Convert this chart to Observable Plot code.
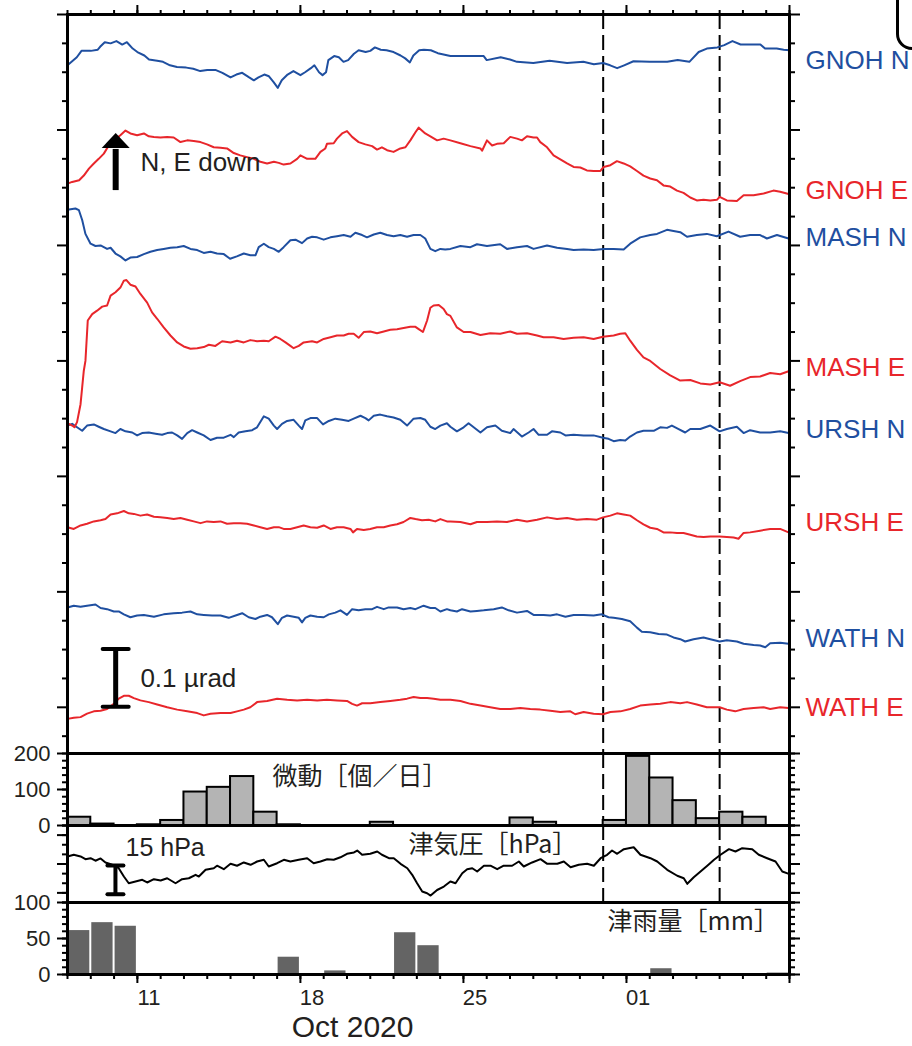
<!DOCTYPE html>
<html><head><meta charset="utf-8">
<script src="https://cdn.jsdelivr.net/npm/d3@7"></script>
<script src="https://cdn.jsdelivr.net/npm/@observablehq/plot@0.6"></script>
<style>
html,body{margin:0;padding:0;background:#fff;}
#wrap{position:relative;width:912px;height:1046px;overflow:hidden;background:#fff;}
#wrap svg{position:absolute;left:0;}
#corner{position:absolute;left:896px;top:-40px;width:60px;height:84px;border:3px solid #000;border-radius:16px;}
</style></head>
<body><div id="wrap"><div id="corner"></div></div>
<script>
// ---------------- DATA ----------------
// time in days since 2020-10-08 00:00, tilt change in nrad (relative to first sample)
const gnohN = [[0,0],[0.4,14],[0.6,25],[1.0,25],[1.3,27],[1.4,32],[1.6,40],[1.85,38],[2.1,42],[2.35,36],[2.55,40],[2.8,29],[3.0,23],[3.3,17],[3.5,10],[3.85,8],[4.1,6],[4.4,0],[4.7,-3],[5.1,-4],[5.4,-6],[5.7,-10],[6.0,-8],[6.35,-8],[6.65,-13],[7.0,-21],[7.25,-16],[7.5,-13],[7.8,-21],[8.0,-26],[8.2,-21],[8.45,-16],[8.65,-19],[8.85,-29],[9.03,-39],[9.2,-26],[9.45,-16],[9.7,-10],[10.0,-17],[10.2,-12],[10.45,-5],[10.6,0],[10.8,-12],[10.95,-17],[11.1,-12],[11.2,9],[11.45,16],[11.65,14],[11.85,6],[12.05,9],[12.3,20],[12.5,26],[12.8,23],[13.0,25],[13.2,31],[13.45,27],[13.7,26],[14.0,23],[14.3,17],[14.5,12],[14.7,5],[14.85,17],[15.1,26],[15.3,27],[15.6,26],[15.9,21],[16.44,16],[17.15,16],[17.87,16],[18.0,9],[18.6,14],[19.0,10],[19.3,6],[20.0,4],[20.7,8],[21.45,4],[22.15,6],[22.6,2],[23.0,4],[23.3,0],[23.6,-5],[23.9,0],[24.3,7],[25.0,6],[25.75,6],[26.2,9],[26.7,6],[27.1,23],[27.45,29],[27.9,31],[28.2,35],[28.55,42],[28.9,36],[29.3,36],[29.75,36],[29.95,29],[30.45,29],[30.75,27],[31,26]];
const gnohE = [[0,0],[0.2,3],[0.5,6],[0.7,14],[0.92,26],[1.13,35],[1.34,43],[1.56,52],[1.77,66],[1.99,75],[2.27,84],[2.49,92],[2.7,87],[2.99,84],[3.28,87],[3.49,82],[3.71,81],[3.99,80],[4.28,81],[4.56,80],[4.85,72],[5.14,75],[5.42,74],[5.71,72],[5.99,68],[6.28,63],[6.57,62],[6.85,61],[7.14,53],[7.42,49],[7.71,46],[8.0,43],[8.28,38],[8.57,35],[8.86,38],[9.07,36],[9.28,33],[9.57,35],[9.86,43],[10.0,49],[10.29,43],[10.64,43],[10.86,55],[11.07,61],[11.14,69],[11.43,70],[11.57,78],[11.79,87],[12.0,91],[12.22,81],[12.5,72],[12.79,68],[13.08,65],[13.29,59],[13.5,63],[13.72,58],[14.0,55],[14.29,61],[14.51,63],[14.72,75],[14.94,89],[15.08,97],[15.36,87],[15.58,82],[15.87,75],[16.15,78],[16.44,75],[16.87,70],[17.3,65],[17.73,61],[17.8,57],[18.01,75],[18.23,66],[18.44,69],[18.73,70],[19.01,81],[19.3,78],[19.51,75],[19.73,82],[20.01,80],[20.16,80],[20.3,72],[20.59,63],[20.87,49],[21.16,42],[21.45,35],[21.73,29],[22.02,28],[22.3,23],[22.59,22],[22.88,22],[23.02,29],[23.31,32],[23.59,39],[23.88,35],[24.16,30],[24.45,22],[24.73,14],[25.02,9],[25.31,6],[25.59,-3],[25.88,-5],[26.17,-12],[26.45,-16],[26.74,-24],[27.02,-29],[27.31,-28],[27.6,-29],[27.88,-28],[28.0,-23],[28.31,-29],[28.74,-30],[29.03,-20],[29.46,-20],[29.89,-17],[30.31,-12],[30.6,-14],[30.96,-18]];
const mashN = [[0,0],[0.34,2],[0.49,-1],[0.63,-18],[0.77,-42],[0.99,-59],[1.2,-63],[1.42,-62],[1.7,-68],[1.85,-66],[2.06,-76],[2.27,-81],[2.49,-88],[2.7,-83],[2.99,-82],[3.28,-77],[3.56,-73],[3.85,-70],[4.13,-68],[4.42,-66],[4.71,-65],[4.99,-63],[5.28,-68],[5.57,-70],[5.85,-75],[6.14,-73],[6.42,-76],[6.71,-77],[6.98,-85],[7.27,-81],[7.57,-76],[7.85,-79],[8.07,-79],[8.21,-65],[8.43,-59],[8.64,-65],[8.86,-68],[9.07,-73],[9.28,-65],[9.57,-53],[9.79,-52],[10.07,-58],[10.29,-50],[10.5,-47],[10.72,-48],[11.0,-52],[11.29,-48],[11.57,-46],[11.86,-44],[12.15,-47],[12.36,-40],[12.65,-44],[12.86,-48],[13.15,-43],[13.43,-40],[13.72,-44],[14.0,-46],[14.29,-44],[14.58,-47],[14.86,-44],[15.15,-44],[15.36,-50],[15.58,-68],[15.79,-72],[16.01,-68],[16.22,-69],[16.44,-68],[16.87,-63],[17.3,-65],[17.58,-60],[18.01,-63],[18.58,-60],[18.87,-68],[19.3,-65],[19.73,-63],[20.01,-68],[20.59,-62],[21.02,-66],[21.45,-68],[21.73,-70],[22.16,-69],[22.59,-70],[23.02,-68],[23.45,-68],[23.88,-69],[24.16,-59],[24.59,-48],[25.02,-44],[25.31,-42],[25.74,-35],[26.02,-37],[26.31,-39],[26.6,-47],[27.02,-44],[27.45,-42],[27.88,-46],[28.38,-38],[28.88,-47],[29.31,-44],[29.74,-44],[30.03,-50],[30.46,-44],[30.96,-50]];
const mashE = [[0,0],[0.2,-4],[0.3,-7],[0.41,2],[0.56,33],[0.63,62],[0.7,91],[0.77,108],[0.87,178],[1.06,189],[1.27,195],[1.49,202],[1.7,204],[1.85,221],[2.06,227],[2.27,235],[2.42,247],[2.53,248],[2.7,240],[2.92,237],[3.13,224],[3.42,209],[3.63,192],[3.85,181],[4.13,166],[4.42,152],[4.71,140],[4.99,133],[5.28,129],[5.57,130],[5.85,132],[6.07,136],[6.35,134],[6.64,142],[7.0,140],[7.28,143],[7.57,140],[7.85,144],[8.14,142],[8.43,143],[8.64,142],[8.93,150],[9.14,146],[9.36,140],[9.57,134],[9.71,130],[9.93,134],[10.14,140],[10.5,142],[10.72,140],[11.0,146],[11.29,149],[11.57,152],[11.86,152],[12.07,155],[12.29,155],[12.5,148],[12.72,158],[13.0,159],[13.29,156],[13.58,159],[13.86,162],[14.15,163],[14.43,165],[14.72,167],[14.94,167],[15.08,163],[15.26,158],[15.44,178],[15.58,200],[15.72,204],[15.94,205],[16.15,198],[16.29,189],[16.44,186],[16.72,166],[17.01,158],[17.3,158],[17.73,153],[18.15,156],[18.58,155],[19.01,159],[19.3,155],[19.73,156],[20.16,152],[20.44,149],[20.87,149],[21.3,146],[21.73,148],[22.16,149],[22.59,146],[22.99,150],[23.45,152],[23.73,155],[23.95,156],[24.16,143],[24.45,127],[24.73,114],[25.02,108],[25.45,94],[25.88,83],[26.31,74],[26.74,75],[27.17,69],[27.6,67],[28.0,71],[28.45,65],[28.88,73],[29.31,80],[29.74,81],[30.17,87],[30.6,85],[30.96,90]];
const urshN = [[0,0],[0.2,3],[0.41,-3],[0.63,-9],[0.84,0],[1.13,2],[1.34,-2],[1.56,-6],[1.85,-10],[2.06,-13],[2.27,-6],[2.49,-10],[2.78,-12],[2.99,-17],[3.2,-13],[3.49,-12],[3.78,-14],[4.06,-16],[4.28,-13],[4.49,-12],[4.71,-17],[4.92,-23],[5.14,-13],[5.35,-8],[5.57,-12],[5.85,-17],[6.14,-25],[6.42,-21],[6.71,-21],[7.0,-16],[7.14,-20],[7.35,-12],[7.64,-10],[7.93,-8],[8.14,-3],[8.43,16],[8.64,12],[8.86,0],[9.0,-6],[9.21,3],[9.43,8],[9.71,10],[9.93,0],[10.07,-6],[10.21,9],[10.43,13],[10.72,13],[10.97,2],[11.22,8],[11.5,12],[11.79,10],[12.07,8],[12.29,12],[12.58,17],[12.79,13],[12.93,9],[13.15,17],[13.43,19],[13.72,16],[14.0,14],[14.29,10],[14.58,0],[14.86,12],[15.15,13],[15.36,10],[15.58,-2],[15.79,-6],[16.01,0],[16.29,4],[16.44,-2],[16.72,-10],[17.01,-3],[17.22,4],[17.44,-3],[17.73,-12],[18.01,-3],[18.37,0],[18.65,-9],[19.01,-13],[19.15,-6],[19.51,-19],[19.8,-12],[20.01,-6],[20.23,-16],[20.59,-16],[20.8,-10],[21.16,-12],[21.38,-17],[21.73,-16],[22.16,-17],[22.59,-17],[22.99,-21],[23.23,-23],[23.45,-27],[23.73,-25],[23.95,-26],[24.16,-19],[24.45,-12],[24.73,-9],[25.17,-9],[25.45,-3],[25.74,-4],[25.95,0],[26.24,-6],[26.52,-12],[26.74,-6],[27.17,-6],[27.6,0],[28.0,-10],[28.31,-6],[28.74,-2],[29.03,-13],[29.31,-8],[29.74,-12],[30.17,-12],[30.6,-10],[30.96,-13]];
const urshE = [[0,0],[0.27,-3],[0.56,3],[0.84,6],[1.13,10],[1.42,12],[1.63,14],[1.85,22],[2.13,24],[2.42,28],[2.63,24],[2.85,23],[3.13,20],[3.42,22],[3.71,18],[3.99,17],[4.28,16],[4.56,14],[4.85,16],[5.14,13],[5.42,10],[5.71,7],[5.99,10],[6.28,9],[6.57,10],[6.85,6],[7.14,7],[7.42,7],[7.71,6],[8.0,3],[8.28,0],[8.57,-3],[8.86,0],[9.07,0],[9.28,-3],[9.57,-3],[9.86,0],[10.14,3],[10.43,0],[10.72,-1],[11.0,3],[11.29,-3],[11.57,0],[11.86,0],[12.15,-3],[12.26,-9],[12.43,-3],[12.72,-5],[13.0,-3],[13.29,0],[13.58,0],[13.86,3],[14.15,5],[14.43,9],[14.72,16],[14.94,14],[15.22,12],[15.51,13],[15.79,10],[16.01,14],[16.29,10],[16.44,10],[16.87,9],[17.3,5],[17.58,9],[18.01,9],[18.44,10],[18.87,9],[19.3,13],[19.73,10],[20.16,13],[20.59,17],[21.02,14],[21.45,16],[21.87,13],[22.3,14],[22.73,13],[22.99,17],[23.31,20],[23.59,24],[23.88,22],[24.16,20],[24.45,12],[24.73,5],[25.02,-1],[25.31,-3],[25.59,-9],[25.88,-9],[26.17,-10],[26.45,-10],[26.74,-13],[27.02,-16],[27.31,-17],[27.6,-16],[28.0,-16],[28.31,-17],[28.6,-18],[28.81,-20],[29.03,-10],[29.31,-9],[29.74,-6],[30.17,-3],[30.6,-3],[30.96,-9]];
const wathN = [[0,0],[0.27,3],[0.56,1],[0.84,3],[1.2,5],[1.42,-1],[1.7,-3],[1.99,-7],[2.2,-7],[2.42,-12],[2.7,-17],[2.99,-14],[3.28,-13],[3.71,-16],[4.13,-12],[4.56,-10],[4.92,-9],[5.28,-7],[5.57,-12],[5.85,-13],[6.21,-14],[6.57,-14],[6.92,-18],[7.28,-13],[7.5,-10],[7.78,-17],[8.07,-20],[8.28,-16],[8.57,-13],[8.78,-17],[9.03,-29],[9.21,-18],[9.43,-14],[9.71,-16],[9.93,-18],[10.07,-26],[10.21,-18],[10.43,-14],[10.72,-16],[11.0,-17],[11.22,-12],[11.5,-9],[11.72,-5],[12.0,-13],[12.22,-3],[12.5,-5],[12.79,-3],[13.08,-3],[13.29,1],[13.58,-3],[13.79,0],[14.15,0],[14.43,-3],[14.72,-1],[14.94,-3],[15.29,3],[15.58,-1],[15.79,-1],[16.01,-7],[16.29,-3],[16.44,-5],[16.72,-7],[16.94,-3],[17.3,-7],[17.58,-6],[17.87,-5],[18.3,-3],[18.65,0],[18.94,-5],[19.3,-9],[19.73,-6],[20.01,-13],[20.44,-13],[20.73,-14],[21.02,-12],[21.38,-16],[21.73,-13],[22.16,-13],[22.59,-14],[22.94,-12],[23.23,-17],[23.45,-18],[23.8,-20],[24.16,-24],[24.45,-35],[24.66,-42],[25.02,-43],[25.38,-46],[25.74,-47],[26.02,-52],[26.31,-55],[26.52,-59],[26.88,-55],[27.31,-52],[27.6,-55],[28.0,-59],[28.31,-57],[28.74,-59],[29.03,-63],[29.46,-65],[29.74,-66],[29.96,-69],[30.17,-62],[30.6,-61],[30.96,-63]];
const wathE = [[0,0],[0.27,2],[0.56,3],[0.84,9],[1.13,13],[1.42,14],[1.7,17],[1.99,26],[2.2,35],[2.42,40],[2.63,40],[2.85,36],[3.13,32],[3.49,29],[3.85,25],[4.28,20],[4.71,16],[5.14,13],[5.57,10],[5.85,6],[6.14,9],[6.57,10],[7.0,10],[7.28,13],[7.57,16],[7.85,20],[8.14,29],[8.57,31],[9.0,35],[9.43,33],[9.86,32],[10.29,33],[10.72,32],[11.14,33],[11.57,32],[12.0,31],[12.22,26],[12.43,23],[12.65,27],[13.0,27],[13.43,29],[13.86,31],[14.29,33],[14.58,35],[14.86,38],[15.15,36],[15.44,36],[15.72,35],[16.01,33],[16.44,33],[16.87,31],[17.3,26],[17.73,23],[18.15,20],[18.58,17],[19.01,17],[19.44,19],[19.87,17],[20.3,16],[20.73,14],[21.16,12],[21.59,13],[21.8,8],[22.16,12],[22.59,9],[22.99,8],[23.31,12],[23.74,13],[24.16,17],[24.59,23],[25.02,25],[25.45,26],[25.88,29],[26.31,27],[26.6,29],[27.02,25],[27.45,20],[28.0,20],[28.31,16],[28.67,13],[29.03,17],[29.46,19],[29.89,20],[30.17,17],[30.6,20],[30.96,19]];

const seriesNames = ["GNOH N","GNOH E","MASH N","MASH E","URSH N","URSH E","WATH N","WATH E"];
const seriesData = [gnohN, gnohE, mashN, mashE, urshN, urshE, wathN, wathE];
const seriesOffsets = [1192, 987, 942, 572, 568, 392, 253, 60];   // nrad, stacking offset
const labelLevels  = [1200, 975, 894, 669, 561, 400, 199, 80];    // nrad

// daily tremor counts and rainfall, Oct 8 .. Nov 7
const tremorCounts = [23,4,0,2,14,93,106,136,37,2,0,0,0,9,0,0,0,0,0,21,9,0,0,14,192,132,69,19,37,23,0];
const rainfall     = [61,72,67,0,0,0,0,0,0,24,0,5,0,0,58,40,0,0,0,0,0,0,0,0,0,8,1,0,0,0,2];

// atmospheric pressure [day, hPa]
const pressure = [[0,1018.9],[0.27,1019.8],[0.56,1018.9],[0.77,1017.5],[0.99,1018.0],[1.2,1016.7],[1.42,1017.9],[1.63,1015.8],[1.92,1014.6],[2.2,1012.8],[2.42,1008.5],[2.63,1005.0],[2.92,1005.9],[3.21,1006.8],[3.42,1005.4],[3.71,1007.1],[4.0,1006.4],[4.28,1007.6],[4.64,1005.0],[4.92,1007.1],[5.21,1007.6],[5.5,1009.4],[5.64,1008.5],[5.93,1012.0],[6.28,1012.8],[6.42,1014.1],[6.71,1012.3],[7.0,1015.1],[7.28,1014.1],[7.57,1015.8],[7.86,1014.6],[8.14,1016.3],[8.43,1017.2],[8.64,1013.7],[9.0,1015.4],[9.29,1017.2],[9.57,1016.3],[9.93,1017.2],[10.29,1018.0],[10.57,1015.4],[10.86,1016.3],[11.15,1017.5],[11.43,1017.2],[11.72,1018.5],[12.0,1020.3],[12.3,1021.0],[12.44,1022.0],[12.65,1019.8],[13.0,1020.3],[13.3,1021.5],[13.5,1019.8],[13.8,1018.0],[14.01,1018.0],[14.3,1015.1],[14.59,1012.8],[14.8,1009.4],[15.01,1005.0],[15.23,1000.7],[15.44,999.8],[15.59,998.6],[15.87,1001.5],[16.16,1003.3],[16.44,1005.9],[16.66,1005.0],[16.95,1010.2],[17.16,1012.3],[17.38,1012.8],[17.59,1011.1],[17.88,1014.1],[18.16,1014.1],[18.45,1012.3],[18.73,1014.1],[19.09,1014.1],[19.38,1016.3],[19.59,1013.7],[19.95,1015.8],[20.31,1017.5],[20.6,1015.1],[21.03,1015.1],[21.31,1016.3],[21.6,1013.3],[21.95,1014.6],[22.31,1015.1],[22.6,1014.1],[22.89,1018.0],[23.17,1019.8],[23.38,1022.0],[23.6,1020.3],[23.89,1022.7],[24.31,1023.7],[24.6,1019.8],[25.03,1018.0],[25.32,1016.3],[25.75,1012.0],[26.18,1008.9],[26.46,1007.6],[26.61,1004.7],[26.89,1008.1],[27.18,1011.1],[27.47,1014.1],[27.76,1017.2],[28.04,1019.8],[28.4,1022.7],[28.68,1021.5],[28.97,1023.2],[29.4,1022.7],[29.68,1019.8],[30.04,1018.0],[30.4,1016.3],[30.69,1011.1],[30.97,1009.9]];

const eventDays = [23, 28];                 // Oct 31, Nov 5
const weekDays = [3, 10, 17, 24, 31];       // Oct 11, 18, 25, Nov 1, Nov 8
const dayLabels = ["11", "18", "25", "01"];
const tremorTicks = [0, 100, 200];
const rainTicks = [0, 50, 100];
const pressureTicks = [1000, 1015, 1030];
const tiltMajorTicks = [80, 280, 480, 680, 880, 1080, 1280];

// ---------------- LAYOUT ----------------
const W = 912, ML = 67, MR = 123;
const DAY = 864e5, t0 = Date.UTC(2020, 9, 8);
const toDate = d => new Date(t0 + d * DAY);
const xDomain = [toDate(0), toDate(31)];
const dailyTicks = d3.range(0, 32).map(toDate);
const weeklyTicks = weekDays.map(toDate);
const eventDates = eventDays.map(toDate);
const blue = "#1f4fa0", red = "#e8262b", ink = "#231f20";
const FONT = "'Liberation Sans', Arial, Helvetica, sans-serif";
const CJK = "'Noto Sans CJK JP', 'Noto Sans CJK SC', sans-serif";
const baseStyle = {background: "transparent", fontFamily: FONT, fontSize: "22px", color: "#000", overflow: "visible"};
const noText = () => "";

function ticksY(values, size, side, labels) {
  return Plot.axisY(values, {anchor: side, tickSize: size, strokeWidth: 2, label: null,
    tickFormat: labels ? (d => String(d)) : noText, tickPadding: 7, fontSize: 22, fill: ink});
}
function mirrorTicksY(major, minor, labelled) {
  return [
    ticksY(minor, 5, "left", false), ticksY(minor, 5, "right", false),
    ticksY(major, 10, "left", labelled), ticksY(major, 10, "right", false)
  ];
}
function annot(draw) {
  return function(a, b) {
    const scales = (a && typeof a.x === "function") ? a : b;
    const g = document.createElementNS("http://www.w3.org/2000/svg", "g");
    draw(g, scales);
    return g;
  };
}
function ibeam(g, x, y1, y2, half, w) {
  g.insertAdjacentHTML("beforeend",
    `<line x1="${x}" x2="${x}" y1="${y1}" y2="${y2}" stroke="#000" stroke-width="${w}"/>` +
    `<line x1="${x-half}" x2="${x+half}" y1="${y1}" y2="${y1}" stroke="#000" stroke-width="4" stroke-linecap="round"/>` +
    `<line x1="${x-half}" x2="${x+half}" y1="${y2}" y2="${y2}" stroke="#000" stroke-width="4" stroke-linecap="round"/>`);
}

const wrap = document.getElementById("wrap");
function place(svg, top) { svg.style.top = top + "px"; wrap.appendChild(svg); }

// ---------- main tilt panel ----------
const rows = seriesNames.flatMap((name, i) => seriesData[i].map(([d, v]) => ({
  name, comp: name.slice(-1), date: toDate(d), value: seriesOffsets[i] + v})));
const labelsData = seriesNames.map((name, i) => ({name, level: labelLevels[i]}));
const tiltMinor = d3.range(30, 1281, 50).filter(v => !tiltMajorTicks.includes(v));

const main = Plot.plot({
  width: W, height: 755, marginTop: 14, marginBottom: 2, marginLeft: ML, marginRight: MR,
  x: {type: "utc", domain: xDomain, label: null},
  y: {domain: [0, 1280], label: null},
  color: {type: "identity"},
  style: baseStyle,
  marks: [
    Plot.axisX(dailyTicks, {anchor: "top", tickSize: 5, strokeWidth: 2, tickFormat: noText, label: null}),
    Plot.axisX(weeklyTicks, {anchor: "top", tickSize: 10, strokeWidth: 2, tickFormat: noText, label: null}),
    ...mirrorTicksY(tiltMajorTicks, tiltMinor, false),
    Plot.ruleX(eventDates, {stroke: "#000", strokeWidth: 2, strokeDasharray: "15,6"}),
    Plot.line(rows.filter(r => r.comp === "N"), {x: "date", y: "value", z: "name", stroke: blue, strokeWidth: 2}),
    Plot.line(rows.filter(r => r.comp === "E"), {x: "date", y: "value", z: "name", stroke: red, strokeWidth: 2}),
    Plot.text(labelsData, {x: () => xDomain[1], y: "level", text: "name", dx: 16, textAnchor: "start",
      fill: d => d.name.endsWith("N") ? blue : red, fontSize: 26}),
    annot((g, s) => {
      const x = s.x(toDate(2.09));
      const yTail = s.y(975), yBase = s.y(1048), yTip = s.y(1074);
      g.insertAdjacentHTML("beforeend",
        `<line x1="${x}" x2="${x}" y1="${yTail}" y2="${yBase + 1}" stroke="#000" stroke-width="6"/>` +
        `<path d="M${x-14},${yBase}L${x},${yTip}L${x+14},${yBase}Z" fill="#000"/>`);
      ibeam(g, x, s.y(180), s.y(80), 13, 5);
    }),
    Plot.text(["N, E down"], {x: () => toDate(3.13), y: () => 1024, text: d => d, textAnchor: "start", fontSize: 26, fill: ink}),
    Plot.text(["0.1 µrad"], {x: () => toDate(3.13), y: () => 130, text: d => d, textAnchor: "start", fontSize: 26, fill: ink}),
    Plot.frame({stroke: "#000", strokeWidth: 3})
  ]
});
place(main, 0);

// ---------- tremor panel ----------
const tremorRows = tremorCounts.map((c, i) => ({start: toDate(i), end: toDate(i + 1), c})).filter(r => r.c > 0);
const tremor = Plot.plot({
  width: W, height: 87, marginTop: 13, marginBottom: 2, marginLeft: ML, marginRight: MR,
  x: {type: "utc", domain: xDomain, axis: null},
  y: {domain: [0, 200], label: null},
  style: baseStyle,
  marks: [
    ...mirrorTicksY(tremorTicks, d3.range(0, 201, 20), true),
    Plot.ruleX(eventDates, {stroke: "#000", strokeWidth: 2, strokeDasharray: "15,6"}),
    Plot.rectY(tremorRows, {x1: "start", x2: "end", y: "c", fill: "#b4b4b4", stroke: "#000", strokeWidth: 2}),
    Plot.text(["微動［個／日］"], {x: () => toDate(8.8), y: () => 136, text: d => d, textAnchor: "start",
      fontSize: 25, fontFamily: CJK, fill: ink}),
    Plot.frame({stroke: "#000", strokeWidth: 3})
  ]
});
place(tremor, 740);

// ---------- pressure panel ----------
const pressureRows = pressure.map(([d, p]) => ({date: toDate(d), p}));
const press = Plot.plot({
  width: W, height: 89, marginTop: 10, marginBottom: 2, marginLeft: ML, marginRight: MR,
  x: {type: "utc", domain: xDomain, axis: null},
  y: {domain: [995, 1035], label: null},
  style: baseStyle,
  marks: [
    ...mirrorTicksY(pressureTicks, d3.range(995, 1036, 5), false),
    Plot.ruleX(eventDates, {stroke: "#000", strokeWidth: 2, strokeDasharray: "15,6"}),
    Plot.line(pressureRows, {x: "date", y: "p", stroke: "#000", strokeWidth: 2}),
    annot((g, s) => ibeam(g, s.x(toDate(2.08)), s.y(1014), s.y(999), 8, 4)),
    Plot.text(["15 hPa"], {x: () => toDate(2.49), y: () => 1023.5, text: d => d, textAnchor: "start", fontSize: 25, fill: ink}),
    Plot.text(["津気圧［hPa］"], {x: () => toDate(14.64), y: () => 1025, text: d => d, textAnchor: "start",
      fontSize: 25, fontFamily: CJK, fill: ink}),
    Plot.frame({stroke: "#000", strokeWidth: 3})
  ]
});
place(press, 815);

// ---------- rainfall panel ----------
const rainRows = rainfall.map((r, i) => ({start: toDate(i), end: toDate(i + 1), r})).filter(d => d.r > 0);
const rain = Plot.plot({
  width: W, height: 156, marginTop: 12, marginBottom: 72, marginLeft: ML, marginRight: MR,
  x: {type: "utc", domain: xDomain, label: null},
  y: {domain: [0, 100], label: null},
  style: baseStyle,
  marks: [
    ...mirrorTicksY(rainTicks, d3.range(0, 101, 10), true),
    Plot.axisX(dailyTicks, {anchor: "bottom", tickSize: 5, strokeWidth: 2, tickFormat: noText, label: null}),
    Plot.axisX(weeklyTicks, {anchor: "bottom", tickSize: 9, strokeWidth: 2, tickFormat: noText, label: null}),
    Plot.rectY(rainRows, {x1: "start", x2: "end", y: "r", fill: "#646464", insetLeft: 1, insetRight: 1}),
    Plot.text(dayLabels, {x: (d, i) => toDate(weekDays[i] + 0.5), frameAnchor: "bottom", dy: 30,
      text: d => d, fontSize: 22, fill: ink}),
    Plot.text(["Oct 2020"], {x: () => toDate(12.24), frameAnchor: "bottom", dy: 62, text: d => d,
      fontSize: 30, fill: ink}),
    Plot.text(["津雨量［mm］"], {x: () => toDate(23.19), y: () => 73, text: d => d, textAnchor: "start",
      fontSize: 25, fontFamily: CJK, fill: ink}),
    Plot.frame({stroke: "#000", strokeWidth: 3})
  ]
});
place(rain, 890);
</script>
</body></html>
